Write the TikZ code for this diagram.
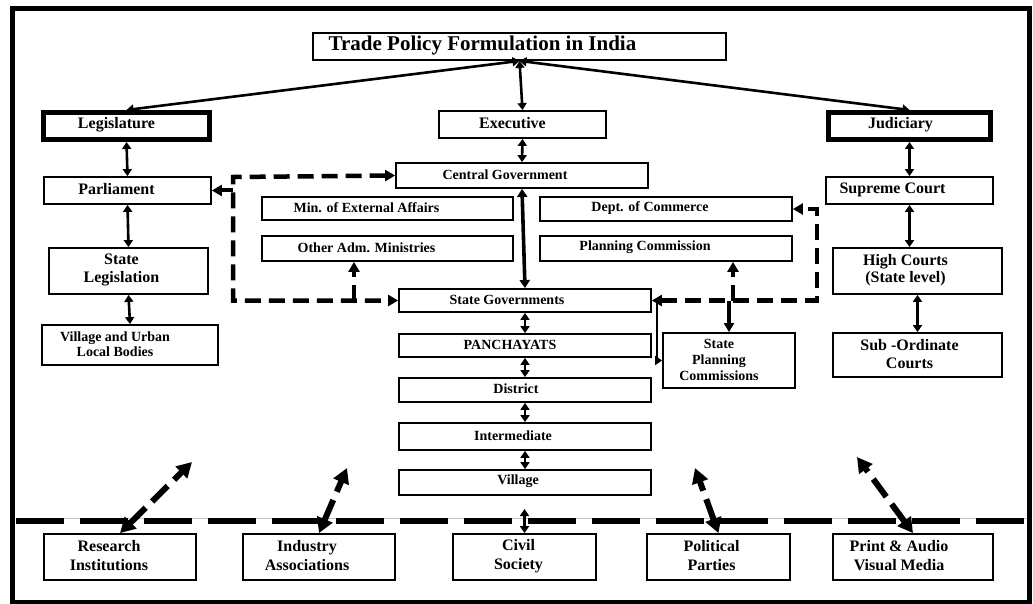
\documentclass[tikz,border=0pt]{standalone}
\usepackage{fontspec}
\setmainfont{Liberation Serif}
\usetikzlibrary{arrows.meta}
\newcommand\mybox[9]{%
  \node[#1, minimum width=#6pt, minimum height=#7pt] (#3) at (#4,#5) {};
  \node[#2] (#3t) at ([xshift=#8pt]#3.center) {#9};}
\begin{document}
\begin{tikzpicture}[x=1pt,y=-1pt,
  bx/.style={draw, line width=1.8pt, inner sep=0pt},
  bxk/.style={draw, line width=5pt, inner sep=0pt},
  tl/.style={font=\bfseries\fontsize{21}{24}\selectfont, inner sep=0pt, yshift=1.5pt},
  tb/.style={font=\bfseries\fontsize{16}{17.5}\selectfont, align=center, inner sep=0pt, yshift=1pt},
  tbb/.style={font=\bfseries\fontsize{16}{19}\selectfont, align=center, inner sep=0pt, yshift=1pt},
  ts/.style={font=\bfseries\fontsize{14}{16}\selectfont, align=center, inner sep=0pt, yshift=1pt},
  tsv/.style={font=\bfseries\fontsize{14}{14.5}\selectfont, align=center, inner sep=0pt, yshift=1pt},
  conn/.style={line width=2.6pt, {Triangle[length=7pt,width=9pt]}-{Triangle[length=7pt,width=9pt]}},
  connk/.style={line width=3.6pt, {Triangle[length=8pt,width=10pt]}-{Triangle[length=8pt,width=10pt]}},
  dsh/.style={line width=4.5pt, dash pattern=on 16pt off 8pt},
  dd/.style={line width=6pt, dash pattern=on 22pt off 9pt, {Triangle[length=15pt,width=16pt]}-{Triangle[length=15pt,width=16pt]}},
  hline/.style={line width=6pt, dash pattern=on 48pt off 16pt}
]
\fill[white] (0,0) rectangle (1033,604);
\useasboundingbox (0,0) rectangle (1033,604);
\draw[line width=5pt] (12,9) rectangle (1029,602);

% boxes
\mybox{bx}{tl}{title}{519.5}{46.5}{413}{27}{-37}{Trade Policy Formulation in India}
\mybox{bxk}{tb}{leg}{126.5}{126}{166}{27}{-10}{Legislature}
\mybox{bx}{tb}{exe}{522.5}{124.5}{167}{27}{-10}{Executive}
\mybox{bxk}{tb}{jud}{909.5}{126}{162}{27}{-9}{Judiciary}
\mybox{bx}{tb}{parl}{127.5}{190.5}{167}{27}{-11}{Parliament}
\mybox{bx}{ts}{cg}{522}{175.5}{252}{25}{-17}{Central Government}
\mybox{bx}{ts}{mea}{387.5}{208.5}{251}{23}{-21}{Min. of External Affairs}
\mybox{bx}{ts}{oam}{387.5}{248.5}{251}{25}{-21}{Other Adm. Ministries}
\mybox{bx}{ts}{doc}{666}{209}{252}{24}{-16}{Dept. of Commerce}
\mybox{bx}{ts}{pc}{666}{248.5}{252}{25}{-21}{Planning Commission}
\mybox{bx}{tb}{sc}{909.5}{190.5}{167}{27}{-17}{Supreme Court}
\mybox{bx}{tb}{hc}{917.5}{271}{169}{46}{-12}{High Courts\\(State level)}
\mybox{bx}{tb}{sl}{128.5}{271}{159}{46}{-7}{State\\Legislation}
\mybox{bx}{ts}{sg}{525}{300.5}{252}{23}{-18}{State Governments}
\mybox{bx}{ts}{pan}{525}{345.5}{252}{23}{-15}{PANCHAYATS}
\mybox{bx}{ts}{dist}{525}{390}{252}{24}{-9}{District}
\mybox{bx}{ts}{inter}{525}{436.5}{252}{27}{-12}{Intermediate}
\mybox{bx}{ts}{vil}{525}{482.5}{252}{25}{-7}{Village}
\mybox{bx}{tsv}{vul}{130}{345}{176}{40}{-15}{Village and Urban\\Local Bodies}
\mybox{bx}{ts}{spc}{729}{360.5}{132}{55}{-10}{State\\Planning\\Commissions}
\mybox{bx}{tb}{soc}{917.5}{355}{169}{44}{-8}{Sub -Ordinate\\Courts}

% separator line
\coordinate (H0) at (16,521);
\coordinate (H1) at (1027,521);
\draw[gray!45, line width=0.8pt] ([yshift=3pt]H0) -- ([yshift=3pt]H1);
\draw[hline] (H0) -- (H1);

\mybox{bx}{tbb}{ri}{120}{557}{152}{46}{-11}{Research\\Institutions}
\mybox{bx}{tbb}{ia}{319}{557}{152}{46}{-12}{Industry\\Associations}
\mybox{bx}{tbb}{civ}{524.5}{557}{143}{46}{-6}{Civil\\Society}
\mybox{bx}{tbb}{pp}{718.5}{557}{143}{46}{-7}{Political\\Parties}
\mybox{bx}{tbb}{pav}{913}{557}{160}{46}{-14}{Print \& Audio\\Visual Media}

% title links
\draw[conn] (title.south) -- (leg.north);
\draw[conn] (title.south) -- (exe.north);
\draw[conn] (title.south) -- (jud.north);

% left column
\draw[conn] (leg.south) -- (parl.north);
\draw[conn] (parl.south) -- (sl.north);
\draw[conn] (sl.south) -- (vul.north);

% centre column
\draw[conn] (exe.south) -- (cg.north);
\draw[connk] (cg.south) -- (sg.north);
\draw[conn] (sg.south) -- (pan.north);
\draw[conn] (pan.south) -- (dist.north);
\draw[conn] (dist.south) -- (inter.north);
\draw[conn] (inter.south) -- (vil.north);
\coordinate (v0) at (524.5,509);
\draw[conn] (v0) -- (civ.north);

% right column
\draw[conn] (jud.south) -- (sc.north);
\draw[conn] (sc.south) -- (sc.south |- hc.north);
\draw[conn] (hc.south) -- (soc.north);

% left dashed loop
\coordinate (L0) at (233,190.5);
\coordinate (L1) at (233,177);
\coordinate (L2) at (233,300.5);
\coordinate (L3) at (354,300.5);
\draw[dsh, {Triangle[length=10pt,width=11pt]}-{Triangle[length=10pt,width=11pt]}] (cg.west) -- (L1) -- (L2) -- (sg.west);
\draw[line width=4pt, -{Triangle[length=10pt,width=11pt]}] (L0) -- (parl.east);
\draw[dsh, -{Triangle[length=10pt,width=11pt]}] (L3) -- (L3 |- oam.south);

% right dashed loop
\coordinate (R1) at (817,300.5);
\coordinate (R2) at (817,209);
\coordinate (R3) at (733,300.5);
\coordinate (R4) at (729,300.5);
\coordinate (R5) at (657,300.5);
\draw[dsh, {Triangle[length=10pt,width=11pt]}-{Triangle[length=10pt,width=11pt]}] (sg.east) -- (R1) -- (R2) -- (doc.east);
\draw[dsh, -{Triangle[length=10pt,width=11pt]}] (R3) -- (R3 |- pc.south);
\draw[line width=3.5pt, -{Triangle[length=9pt,width=10pt]}] (R4) -- (spc.north);
\draw[line width=2.5pt, -{Triangle[length=7pt,width=9pt]}] (R5) |- (spc.west);

% bottom diagonal links
\coordinate (D1) at (192,462);
\coordinate (D2) at (347,468);
\coordinate (D3) at (695,468);
\coordinate (D4) at (857,457);
\draw[dd] (ri.north) -- (D1);
\draw[dd] (ia.north) -- (D2);
\draw[dd] (pp.north) -- (D3);
\draw[dd] (pav.north) -- (D4);
\end{tikzpicture}
\end{document}
